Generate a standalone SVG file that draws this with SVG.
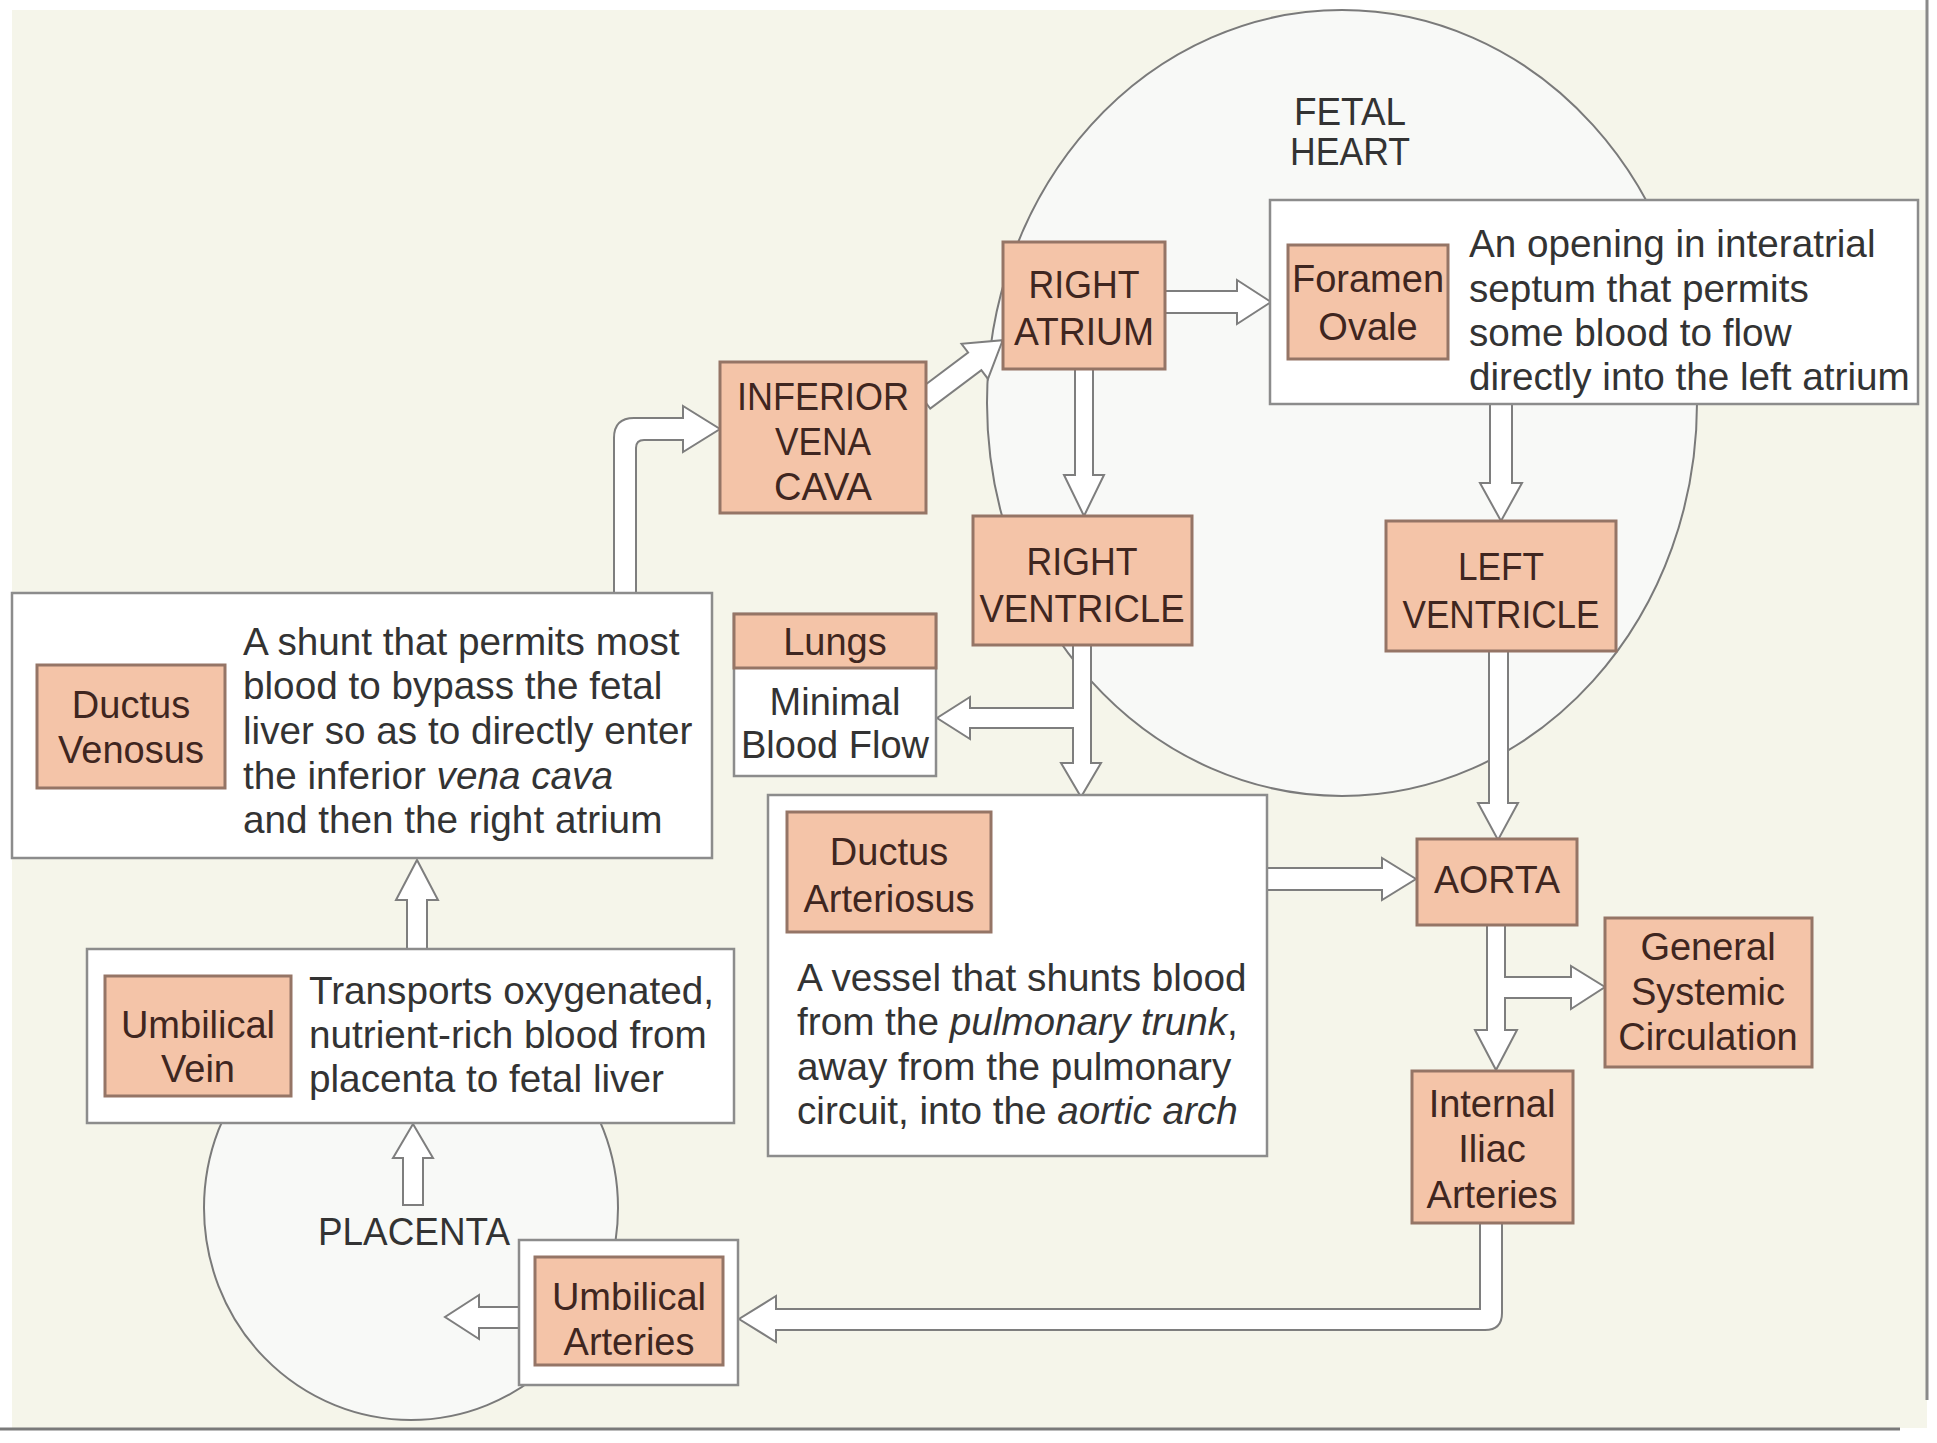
<svg xmlns="http://www.w3.org/2000/svg" width="1937" height="1443" viewBox="0 0 1937 1443">
<style>
.sal{fill:#f4c4a8;stroke:#957566;stroke-width:3}
.wbox{fill:#ffffff;stroke:#8c8c8c;stroke-width:2.5}
.arr{fill:#ffffff;stroke:#7e7e7e;stroke-width:2;stroke-linejoin:miter}
.ell{fill:#f8f9f7;stroke:#7a7a7a;stroke-width:2}
.lbl{font-family:"Liberation Sans",Arial,sans-serif;font-size:38px;fill:#3f2620;text-anchor:middle}
.desc{font-family:"Liberation Sans",Arial,sans-serif;font-size:38.7px;fill:#333333}
.big{font-family:"Liberation Sans",Arial,sans-serif;font-size:38px;fill:#333333;text-anchor:middle}
</style>
<rect x="0" y="0" width="1937" height="1443" fill="#ffffff"/>
<rect x="12" y="10" width="1915" height="1418" fill="#f5f5ea"/>
<line x1="1927" y1="0" x2="1927" y2="1400" stroke="#8a8a8a" stroke-width="3"/>
<line x1="0" y1="1429" x2="1900" y2="1429" stroke="#7a7a7a" stroke-width="3"/>

<g id="fetal-heart">
<ellipse class="ell" cx="1342" cy="403" rx="355" ry="393"/>
<text class="big" x="1350" y="125" textLength="112" lengthAdjust="spacingAndGlyphs">FETAL</text>
<text class="big" x="1350" y="165" textLength="120" lengthAdjust="spacingAndGlyphs">HEART</text>
</g>
<g id="placenta">
<ellipse class="ell" cx="411" cy="1208" rx="207" ry="212"/>
<text class="desc" x="318" y="1245" textLength="192" lengthAdjust="spacingAndGlyphs">PLACENTA</text>
</g>

<g id="connectors">
<path class="arr" d="M614,596 L614,438 Q614,418 634,418 L683,418 L683,406 L720,429 L683,452 L683,440 L644,440 Q636,440 636,448 L636,596 Z"/>
<path class="arr" transform="translate(930,395) rotate(-37)" d="M-8,-11 L56,-11 L56,-22 L91,0 L56,22 L56,11 L-8,11 Z"/>
<path class="arr" d="M1160,291 L1237,291 L1237,280 L1271,302 L1237,324 L1237,313 L1160,313 Z"/>
<path class="arr" d="M1075,365 L1075,475 L1064,475 L1084,516 L1104,475 L1093,475 L1093,365 Z"/>
<path class="arr" d="M1490,400 L1490,483 L1480,483 L1501,521 L1522,483 L1512,483 L1512,400 Z"/>
<path class="arr" d="M1489,648 L1489,803 L1478,803 L1498,840 L1518,803 L1508,803 L1508,648 Z"/>
<path class="arr" d="M1073,640 L1073,708 L970,708 L970,697 L937,718 L970,739 L970,728 L1073,728 L1073,763 L1061,763 L1081,797 L1101,763 L1091,763 L1091,640 Z"/>
<path class="arr" d="M1262,868 L1382,868 L1382,858 L1416,879 L1382,900 L1382,890 L1262,890 Z"/>
<path class="arr" d="M1487,920 L1487,1030 L1475,1030 L1496,1070 L1517,1030 L1505,1030 L1505,998 L1571,998 L1571,1009 L1605,987 L1571,966 L1571,977 L1505,977 L1505,920 Z"/>
<path class="arr" d="M1480,1220 L1480,1309 L776,1309 L776,1296 L739,1319 L776,1342 L776,1330 L1485,1330 Q1502,1330 1502,1313 L1502,1220 Z"/>
<path class="arr" d="M524,1307 L479,1307 L479,1295 L445,1317 L479,1339 L479,1328 L524,1328 Z"/>
<path class="arr" d="M403,1205 L403,1158 L393,1158 L413,1124 L433,1158 L423,1158 L423,1205 Z"/>
<path class="arr" d="M407,955 L407,900 L396,900 L417,860 L438,900 L427,900 L427,955 Z"/>
</g>

<g id="right-atrium">
<rect class="sal" x="1003" y="242" width="162" height="127"/>
<text class="lbl" x="1084" y="298" textLength="111" lengthAdjust="spacingAndGlyphs">RIGHT</text>
<text class="lbl" x="1084" y="345" textLength="140" lengthAdjust="spacingAndGlyphs">ATRIUM</text>
</g>
<g id="inferior-vena-cava">
<rect class="sal" x="720" y="362" width="206" height="151"/>
<text class="lbl" x="823" y="410" textLength="172" lengthAdjust="spacingAndGlyphs">INFERIOR</text>
<text class="lbl" x="823" y="455" textLength="96" lengthAdjust="spacingAndGlyphs">VENA</text>
<text class="lbl" x="823" y="500" textLength="98" lengthAdjust="spacingAndGlyphs">CAVA</text>
</g>
<g id="foramen-ovale">
<rect class="wbox" x="1270" y="200" width="648" height="204"/>
<rect class="sal" x="1288" y="245" width="160" height="114"/>
<text class="lbl" x="1368" y="292">Foramen</text>
<text class="lbl" x="1368" y="340">Ovale</text>
<text class="desc" x="1469" y="257">An opening in interatrial</text>
<text class="desc" x="1469" y="302">septum that permits</text>
<text class="desc" x="1469" y="346">some blood to flow</text>
<text class="desc" x="1469" y="390">directly into the left atrium</text>
</g>
<g id="right-ventricle">
<rect class="sal" x="973" y="516" width="219" height="129"/>
<text class="lbl" x="1082" y="575" textLength="111" lengthAdjust="spacingAndGlyphs">RIGHT</text>
<text class="lbl" x="1082" y="622" textLength="205" lengthAdjust="spacingAndGlyphs">VENTRICLE</text>
</g>
<g id="left-ventricle">
<rect class="sal" x="1386" y="521" width="230" height="130"/>
<text class="lbl" x="1501" y="580" textLength="86" lengthAdjust="spacingAndGlyphs">LEFT</text>
<text class="lbl" x="1501" y="628" textLength="197" lengthAdjust="spacingAndGlyphs">VENTRICLE</text>
</g>
<g id="lungs">
<rect class="wbox" x="734" y="614" width="202" height="162"/>
<rect class="sal" x="734" y="614" width="202" height="54"/>
<text class="lbl" x="835" y="655">Lungs</text>
<text class="big" x="835" y="715">Minimal</text>
<text class="big" x="835" y="758">Blood Flow</text>
</g>
<g id="ductus-venosus">
<rect class="wbox" x="12" y="593" width="700" height="265"/>
<rect class="sal" x="37" y="665" width="188" height="123"/>
<text class="lbl" x="131" y="718">Ductus</text>
<text class="lbl" x="131" y="763">Venosus</text>
<text class="desc" x="243" y="655">A shunt that permits most</text>
<text class="desc" x="243" y="699">blood to bypass the fetal</text>
<text class="desc" x="243" y="744">liver so as to directly enter</text>
<text class="desc" x="243" y="789">the inferior <tspan font-style="italic">vena cava</tspan></text>
<text class="desc" x="243" y="833">and then the right atrium</text>
</g>
<g id="ductus-arteriosus">
<rect class="wbox" x="768" y="795" width="499" height="361"/>
<rect class="sal" x="787" y="812" width="204" height="120"/>
<text class="lbl" x="889" y="865">Ductus</text>
<text class="lbl" x="889" y="912">Arteriosus</text>
<text class="desc" x="797" y="991">A vessel that shunts blood</text>
<text class="desc" x="797" y="1035">from the <tspan font-style="italic">pulmonary trunk</tspan>,</text>
<text class="desc" x="797" y="1080">away from the pulmonary</text>
<text class="desc" x="797" y="1124">circuit, into the <tspan font-style="italic">aortic arch</tspan></text>
</g>
<g id="aorta">
<rect class="sal" x="1417" y="839" width="160" height="86"/>
<text class="lbl" x="1497" y="893" textLength="126" lengthAdjust="spacingAndGlyphs">AORTA</text>
</g>
<g id="general-systemic-circulation">
<rect class="sal" x="1605" y="918" width="207" height="149"/>
<text class="lbl" x="1708" y="960">General</text>
<text class="lbl" x="1708" y="1005">Systemic</text>
<text class="lbl" x="1708" y="1050">Circulation</text>
</g>
<g id="internal-iliac-arteries">
<rect class="sal" x="1412" y="1071" width="161" height="152"/>
<text class="lbl" x="1492" y="1117">Internal</text>
<text class="lbl" x="1492" y="1162">Iliac</text>
<text class="lbl" x="1492" y="1208">Arteries</text>
</g>
<g id="umbilical-vein">
<rect class="wbox" x="87" y="949" width="647" height="174"/>
<rect class="sal" x="105" y="976" width="186" height="120"/>
<text class="lbl" x="198" y="1038">Umbilical</text>
<text class="lbl" x="198" y="1082">Vein</text>
<text class="desc" x="309" y="1004">Transports oxygenated,</text>
<text class="desc" x="309" y="1048">nutrient-rich blood from</text>
<text class="desc" x="309" y="1092">placenta to fetal liver</text>
</g>
<g id="umbilical-arteries">
<rect class="wbox" x="519" y="1240" width="219" height="145"/>
<rect class="sal" x="535" y="1257" width="188" height="108"/>
<text class="lbl" x="629" y="1310">Umbilical</text>
<text class="lbl" x="629" y="1355">Arteries</text>
</g>
</svg>
